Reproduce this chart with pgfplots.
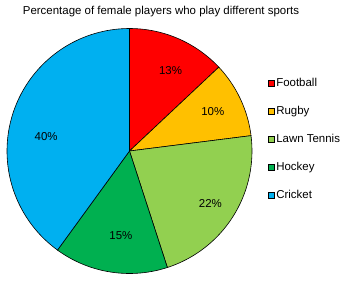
\documentclass[border=0pt]{standalone}
\usepackage{fontspec}
\setmainfont{Liberation Sans}
\usepackage{pgfplots}
\pgfplotsset{compat=1.18}
\definecolor{cFootball}{HTML}{FF0000}
\definecolor{cRugby}{HTML}{FFC000}
\definecolor{cTennis}{HTML}{92D050}
\definecolor{cHockey}{HTML}{00B050}
\definecolor{cCricket}{HTML}{00B0F0}
\begin{document}
\begin{tikzpicture}[x=1bp,y=1bp]
\useasboundingbox (-129.5,-131) rectangle (220.5,151);
\node[font=\fontsize{11.5}{14}\selectfont] at (31.5,139.5) {Percentage of female players who play different sports};
\begin{axis}[at={(0,0)}, anchor=center, scale only axis, width=245bp, height=245bp,
  xmin=-1, xmax=1, ymin=-1, ymax=1, hide axis, clip=false,
  samples=80,
  area legend,
  legend image code/.code={\draw[#1, draw=black, line width=0.5bp] (0bp,-3bp) rectangle (6bp,3bp);},
  legend cell align=left,
  legend style={draw=none, fill=none, at={(axis cs:1.125,0.612)}, anchor=north west,
    font=\fontsize{11.5}{14}\selectfont, row sep=13.5bp, inner sep=0pt,
    nodes={inner sep=2.3bp}},
  every axis plot/.append style={draw=black, line width=0.6bp},
]
% cumulative percentages: 0, 13, 23, 45, 60, 100  (values 13, 10, 22, 15, 40)
\addplot[fill=cFootball, domain={90-3.6*0}:{90-3.6*13}] ({cos(x)},{sin(x)}) -- (0,0) -- cycle;
\addlegendentry{Football}
\addplot[fill=cRugby, domain={90-3.6*13}:{90-3.6*23}] ({cos(x)},{sin(x)}) -- (0,0) -- cycle;
\addlegendentry{Rugby}
\addplot[fill=cTennis, domain={90-3.6*23}:{90-3.6*45}] ({cos(x)},{sin(x)}) -- (0,0) -- cycle;
\addlegendentry{Lawn Tennis}
\addplot[fill=cHockey, domain={90-3.6*45}:{90-3.6*60}] ({cos(x)},{sin(x)}) -- (0,0) -- cycle;
\addlegendentry{Hockey}
\addplot[fill=cCricket, domain={90-3.6*60}:{90-3.6*100}] ({cos(x)},{sin(x)}) -- (0,0) -- cycle;
\addlegendentry{Cricket}
\node[font=\fontsize{11.5}{14}\selectfont] at (axis cs:0.335,0.66) {13\%};
\node[font=\fontsize{11.5}{14}\selectfont] at (axis cs:0.68,0.32) {10\%};
\node[font=\fontsize{11.5}{14}\selectfont] at (axis cs:0.66,-0.43) {22\%};
\node[font=\fontsize{11.5}{14}\selectfont] at (axis cs:-0.07,-0.69) {15\%};
\node[font=\fontsize{11.5}{14}\selectfont] at (axis cs:-0.68,0.12) {40\%};
\end{axis}
\end{tikzpicture}
\end{document}
